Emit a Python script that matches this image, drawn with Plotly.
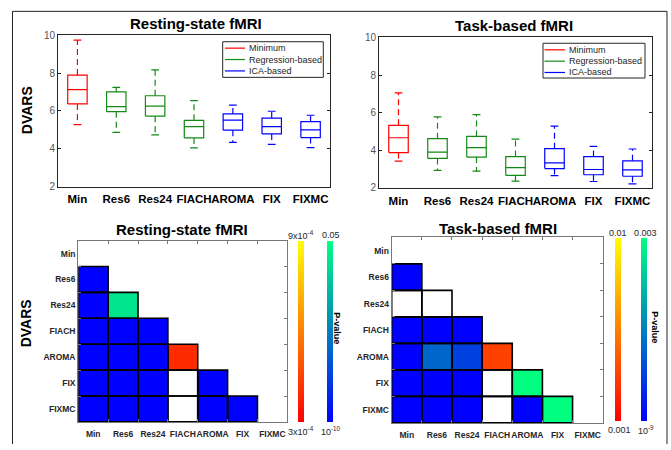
import plotly.graph_objects as go

W, H = 671, 450

methods = ["Min", "Res6", "Res24", "FIACH", "AROMA", "FIX", "FIXMC"]
groups = ["min", "reg", "reg", "reg", "ica", "ica", "ica"]
legend_names = {"min": "Minimum", "reg": "Regression-based", "ica": "ICA-based"}
group_colors = {"min": "#ff0000", "reg": "#138a13", "ica": "#0000ff"}

# Resting-state DVARS box statistics
rest_lower = [5.27, 4.86, 4.73, 4.04, 4.33, 4.23, 4.06]
rest_q1 = [6.37, 5.96, 5.72, 4.57, 4.98, 4.78, 4.59]
rest_med = [7.12, 6.22, 6.25, 5.17, 5.51, 5.17, 5.00]
rest_q3 = [7.89, 7.00, 6.80, 5.50, 5.84, 5.62, 5.43]
rest_upper = [9.74, 7.24, 8.17, 6.54, 6.30, 5.98, 5.77]

# Task-based DVARS box statistics
task_lower = [3.42, 2.92, 2.88, 2.35, 2.64, 2.33, 2.21]
task_q1 = [3.87, 3.56, 3.63, 2.66, 3.02, 2.69, 2.61]
task_med = [4.66, 3.89, 4.13, 3.07, 3.32, 2.97, 2.95]
task_q3 = [5.32, 4.61, 4.73, 3.66, 4.08, 3.66, 3.43]
task_upper = [7.05, 5.77, 5.89, 4.59, 5.28, 4.20, 4.06]

# Pairwise p-values (lower triangle rows; None = not in that colour map)
rest_winter = [
    [],
    [1e-10],
    [1e-10, 0.045],
    [1e-10, 1e-10, 1e-10],
    [1e-10, 1e-10, 1e-10, None],
    [1e-10, 1e-10, 1e-10, None, 1e-10],
    [1e-10, 1e-10, 1e-10, None, 1e-10, 1e-10],
]
rest_autumn = [
    [],
    [None],
    [None, None],
    [None, None, None],
    [None, None, None, 4.0e-4],
    [None, None, None, None, None],
    [None, None, None, None, None, None],
]
task_winter = [
    [],
    [1e-9],
    [None, None],
    [1e-9, 1e-9, 1e-9],
    [1e-9, 1.2e-3, 7.5e-4, None],
    [1e-9, 1e-9, 1e-9, None, 0.003],
    [1e-9, 1e-9, 1e-9, None, 1e-9, 0.003],
]
task_autumn = [
    [],
    [None],
    [None, None],
    [None, None, None],
    [None, None, None, 3.3e-3],
    [None, None, None, None, None],
    [None, None, None, None, None, None],
]
rest_winter_range = [1e-10, 0.05]
rest_autumn_range = [3e-4, 9e-4]
task_winter_range = [1e-9, 0.003]
task_autumn_range = [0.001, 0.01]
rest_winter_labels = ["0.05", "10<sup>-10</sup>"]
rest_autumn_labels = ["9x10<sup>-4</sup>", "3x10<sup>-4</sup>"]
task_winter_labels = ["0.003", "10<sup>-9</sup>"]
task_autumn_labels = ["0.01", "0.001"]

winter_scale = [[0, "rgb(0,0,255)"], [1, "rgb(0,255,128)"]]
autumn_scale = [[0, "rgb(255,0,0)"], [1, "rgb(255,255,0)"]]

FONT = "Liberation Sans, Arial, Helvetica, sans-serif"


def px(x):
    return x / W


def py(y):
    return 1 - y / H


fig = go.Figure()

BOX_W = 0.25
CAP_W = 0.1


def add_boxes(lower, q1, med, q3, upper, xa, ya):
    for g in ["min", "reg", "ica"]:
        bx, by, wx, wy = [], [], [], []
        for i, gg in enumerate(groups):
            if gg != g:
                continue
            c = i + 1
            bx += [c - BOX_W, c + BOX_W, c + BOX_W, c - BOX_W, c - BOX_W, None,
                   c - BOX_W, c + BOX_W, None,
                   c - CAP_W, c + CAP_W, None, c - CAP_W, c + CAP_W, None]
            by += [q1[i], q1[i], q3[i], q3[i], q1[i], None,
                   med[i], med[i], None,
                   upper[i], upper[i], None, lower[i], lower[i], None]
            wx += [c, c, None, c, c, None]
            wy += [q3[i], upper[i], None, q1[i], lower[i], None]
        col = group_colors[g]
        fig.add_trace(go.Scatter(x=wx, y=wy, mode="lines", xaxis=xa, yaxis=ya,
                                 line=dict(color=col, width=1.2, dash="6px,4px"),
                                 showlegend=False, hoverinfo="skip"))
        fig.add_trace(go.Scatter(x=bx, y=by, mode="lines", xaxis=xa, yaxis=ya,
                                 line=dict(color=col, width=1.2),
                                 showlegend=False, hoverinfo="skip"))


add_boxes(rest_lower, rest_q1, rest_med, rest_q3, rest_upper, "x", "y")
add_boxes(task_lower, task_q1, task_med, task_q3, task_upper, "x2", "y2")


def to_matrix(rows):
    n = len(methods)
    m = [[None] * n for _ in range(n)]
    for r, row in enumerate(rows):
        for c, v in enumerate(row):
            m[r][c] = v
    return m


def add_heat(winter, autumn, wr, ar, xa, ya, cb_ax, cb_wx, cb_top, cb_bot):
    n = len(methods)
    idx = list(range(n))
    ln = (cb_bot - cb_top) / H
    yc = py((cb_top + cb_bot) / 2)
    fig.add_trace(go.Heatmap(z=to_matrix(autumn), x=idx, y=idx, xaxis=xa, yaxis=ya,
                             colorscale=autumn_scale, zmin=ar[0], zmax=ar[1],
                             hoverinfo="skip",
                             colorbar=dict(x=px(cb_ax), xanchor="left", y=yc, yanchor="middle",
                                           len=ln, lenmode="fraction", thickness=5.5,
                                           xpad=0, ypad=0, outlinewidth=0,
                                           showticklabels=False, ticks="")))
    fig.add_trace(go.Heatmap(z=to_matrix(winter), x=idx, y=idx, xaxis=xa, yaxis=ya,
                             colorscale=winter_scale, zmin=wr[0], zmax=wr[1],
                             hoverinfo="skip",
                             colorbar=dict(x=px(cb_wx), xanchor="left", y=yc, yanchor="middle",
                                           len=ln, lenmode="fraction", thickness=5.5,
                                           xpad=0, ypad=0, outlinewidth=0,
                                           showticklabels=False, ticks="")))
    ox, oy = [], []
    for r in range(n):
        for c in range(r):
            ox += [c - 0.5, c + 0.5, c + 0.5, c - 0.5, c - 0.5, None]
            oy += [r - 0.5, r - 0.5, r + 0.5, r + 0.5, r - 0.5, None]
    fig.add_trace(go.Scatter(x=ox, y=oy, mode="lines", xaxis=xa, yaxis=ya,
                             line=dict(color="black", width=1.6),
                             showlegend=False, hoverinfo="skip"))


add_heat(rest_winter, rest_autumn, rest_winter_range, rest_autumn_range,
         "x3", "y3", 297.7, 326.7, 241.7, 427.7)
add_heat(task_winter, task_autumn, task_winter_range, task_autumn_range,
         "x4", "y4", 615.0, 641.0, 238.3, 426.7)

ax_col = "#262626"
box_x = dict(range=[0.5, 7.5], tickmode="array", tickvals=list(range(1, 8)), ticktext=methods,
             ticks="", showline=True, linecolor=ax_col, linewidth=1, mirror=True,
             showgrid=False, zeroline=False, tickangle=0, ticklabelstandoff=2,
             tickfont=dict(family=FONT, size=11.5, color="black", weight="bold"))
box_y = dict(range=[2, 10], tickmode="array", tickvals=[2, 4, 6, 8, 10],
             ticks="inside", ticklen=3, tickcolor=ax_col, showline=True, linecolor=ax_col,
             linewidth=1, mirror="ticks", showgrid=False, zeroline=False,
             tickfont=dict(family=FONT, size=10, color="#555555"))

n = len(methods)
heat_x = dict(range=[-0.5, n - 0.5], tickmode="array", tickvals=list(range(n)), ticktext=methods,
              ticks="", showline=True, linecolor="#777777", linewidth=1.2, mirror="ticks",
              showgrid=False, zeroline=False, tickangle=0, ticklabelstandoff=4,
              minor=dict(tickmode="array", tickvals=[k + 0.5 for k in range(n - 1)],
                         ticks="inside", ticklen=3, tickcolor="#777777", showgrid=False),
              tickfont=dict(family=FONT, size=8.5, color="#262626", weight="bold"))
heat_y = dict(range=[n - 0.5, -0.5], tickmode="array", tickvals=list(range(n)), ticktext=methods,
              ticks="", showline=True, linecolor="#777777", linewidth=1.2, mirror="ticks",
              showgrid=False, zeroline=False, tickangle=0,
              minor=dict(tickmode="array", tickvals=[k + 0.5 for k in range(n - 1)],
                         ticks="inside", ticklen=3, tickcolor="#777777", showgrid=False),
              tickfont=dict(family=FONT, size=8.5, color="#262626", weight="bold"))

fig.update_layout(
    width=W, height=H, autosize=False,
    margin=dict(l=0, r=0, t=0, b=0),
    paper_bgcolor="white", plot_bgcolor="white",
    showlegend=False,
    xaxis=dict(domain=[px(58), px(330)], anchor="y", **box_x),
    yaxis=dict(domain=[py(185.5), py(30)], anchor="x", **box_y),
    xaxis2=dict(domain=[px(379), px(652)], anchor="y2", **box_x),
    yaxis2=dict(domain=[py(186.7), py(32.3)], anchor="x2", **box_y),
    xaxis3=dict(domain=[px(78.3), px(287.3)], anchor="y3", **heat_x),
    yaxis3=dict(domain=[py(427.3), py(241)], anchor="x3", **heat_y),
    xaxis4=dict(domain=[px(391.7), px(602.7)], anchor="y4", **heat_x),
    yaxis4=dict(domain=[py(428.3), py(237.7)], anchor="x4", **heat_y),
)

ann = []
shapes = []


def text(x, y, s, size, bold=False, color="black", angle=0, xanchor="center"):
    ann.append(dict(x=px(x), y=py(y), xref="paper", yref="paper", text=s, showarrow=False,
                    xanchor=xanchor, yanchor="middle", textangle=angle,
                    font=dict(family=FONT, size=size, color=color,
                              weight="bold" if bold else "normal")))


# titles and axis labels
text(196, 18, "Resting-state fMRI", 15, bold=True)
text(514, 20, "Task-based fMRI", 15, bold=True)
text(182, 230, "Resting-state fMRI", 15, bold=True)
text(498, 229, "Task-based fMRI", 15, bold=True)
text(27, 107, "DVARS", 14, bold=True, angle=-90)
text(26, 326, "DVARS", 14, bold=True, angle=-90)

# colorbar labels
text(300.5, 235.5, rest_autumn_labels[0], 9, color="#262626")
text(300.5, 437, rest_autumn_labels[1], 9, color="#262626")
text(331, 235.5, rest_winter_labels[0], 9, color="#262626")
text(331, 437, rest_winter_labels[1], 9, color="#262626")
text(337, 331, "P-value", 9, bold=True, angle=90)
text(618, 233, task_autumn_labels[0], 9, color="#262626")
text(619, 435.5, task_autumn_labels[1], 9, color="#262626")
text(645, 233, task_winter_labels[0], 9, color="#262626")
text(646, 435.5, task_winter_labels[1], 9, color="#262626")
text(655, 330, "P-value", 9, bold=True, angle=90)


def legend(x0, y0, x1, y1, rows_y, line_x0, line_x1):
    shapes.append(dict(type="rect", xref="paper", yref="paper", x0=px(x0), x1=px(x1),
                       y0=py(y1), y1=py(y0), line=dict(color="#262626", width=1),
                       fillcolor="white", layer="above"))
    for g, yy in zip(["min", "reg", "ica"], rows_y):
        shapes.append(dict(type="line", xref="paper", yref="paper", x0=px(line_x0), x1=px(line_x1),
                           y0=py(yy), y1=py(yy), line=dict(color=group_colors[g], width=1.2)))
        text(line_x1 + 1.5, yy, legend_names[g], 9, color="#262626", xanchor="left")


legend(222.7, 36.7, 323.3, 73.3, [43.3, 55, 66.7], 225, 245)
legend(543, 38.3, 645, 74, [45, 56.7, 68.3], 544.5, 565)

# outer frame
shapes.append(dict(type="line", xref="paper", yref="paper", x0=px(12.5), x1=px(667),
                   y0=py(5.5), y1=py(5.5), line=dict(color="#222222", width=1)))
shapes.append(dict(type="line", xref="paper", yref="paper", x0=px(12.5), x1=px(12.5),
                   y0=py(5.5), y1=py(450), line=dict(color="#222222", width=1)))
shapes.append(dict(type="line", xref="paper", yref="paper", x0=px(667), x1=px(667),
                   y0=py(5.5), y1=py(450), line=dict(color="#222222", width=1)))

fig.update_layout(annotations=ann, shapes=shapes)
fig.write_html("out.html", config={"displayModeBar": False},
               post_script="document.body.style.margin='0';document.body.style.padding='0';")
